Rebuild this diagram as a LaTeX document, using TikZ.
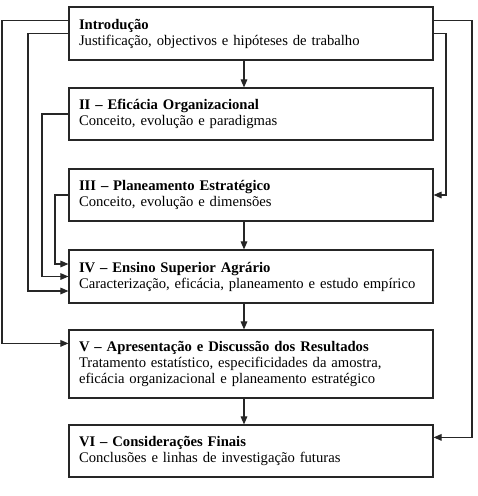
\documentclass[tikz,border=0pt]{standalone}
\usepackage{fontspec}
\setmainfont{Liberation Serif}
\usetikzlibrary{calc,arrows.meta}
\begin{document}
\begin{tikzpicture}[x=0.75pt,y=-0.75pt,
  box/.style={draw=black!85,line width=0.9pt,minimum width=273pt,text width=258pt,align=left,
    inner xsep=7.5pt,font=\fontsize{11}{12}\selectfont},
  arr/.style={draw=black!85,line width=0.8pt,-{Triangle[length=6pt,width=5pt]}},
  ln/.style={draw=black!85,line width=0.8pt}]
\useasboundingbox (0,0) rectangle (478,496);
\node[box,minimum height=39.75pt] (b1) at (251,33.5) {\textbf{Introdução}\\Justificação, objectivos e hipóteses de trabalho};
\node[box,minimum height=39pt] (b2) at (251,114) {\textbf{II – Eficácia Organizacional}\\Conceito, evolução e paradigmas};
\node[box,minimum height=39pt] (b3) at (251,195) {\textbf{III – Planeamento Estratégico}\\Conceito, evolução e dimensões};
\node[box,minimum height=39.75pt] (b4) at (251,276.5) {\textbf{IV – Ensino Superior Agrário}\\Caracterização, eficácia, planeamento e estudo empírico};
\node[box,minimum height=51pt] (b5) at (251,364) {\textbf{V – Apresentação e Discussão dos Resultados}\\Tratamento estatístico, especificidades da amostra,\\eficácia organizacional e planeamento estratégico};
\node[box,minimum height=39pt] (b6) at (251,451) {\textbf{VI – Considerações Finais}\\Conclusões e linhas de investigação futuras};
% columns
\coordinate (M) at (244,0);
\coordinate (L1) at (2,0);
\coordinate (L2) at (28,0);
\coordinate (L3) at (42,0);
\coordinate (L4) at (55,0);
\coordinate (R1) at (472,0);
\coordinate (R2) at (446,0);
% vertical chain
\draw[arr] (b1.south -| M) -- (b2.north -| M);
\draw[arr] (b3.south -| M) -- (b4.north -| M);
\draw[arr] (b4.south -| M) -- (b5.north -| M);
\draw[arr] (b5.south -| M) -- (b6.north -| M);
% left side
\coordinate (s1a) at ($(b1.north west)+(0,14)$);
\coordinate (s1b) at ($(b1.north west)+(0,27)$);
\coordinate (a5) at ($(b5.north west)+(0,14)$);
\coordinate (a4a) at ($(b4.west)+(0,-12.5)$);
\coordinate (a4b) at (b4.west);
\coordinate (a4c) at ($(b4.west)+(0,14.5)$);
\draw[arr] (s1a) -| (L1 |- a5) -- (a5);
\draw[arr] (s1b) -| (L2 |- a4c) -- (a4c);
\draw[arr] (b2.west) -| (L3 |- a4b) -- (a4b);
\draw[arr] (b3.west) -| (L4 |- a4a) -- (a4a);
% right side
\coordinate (e1a) at ($(b1.north east)+(0,14)$);
\coordinate (e1b) at ($(b1.north east)+(0,27)$);
\coordinate (a6) at ($(b6.north east)+(0,13)$);
\draw[arr] (e1a) -| (R1 |- a6) -- (a6);
\draw[arr] (e1b) -| (R2 |- b3.east) -- (b3.east);
\end{tikzpicture}
\end{document}
